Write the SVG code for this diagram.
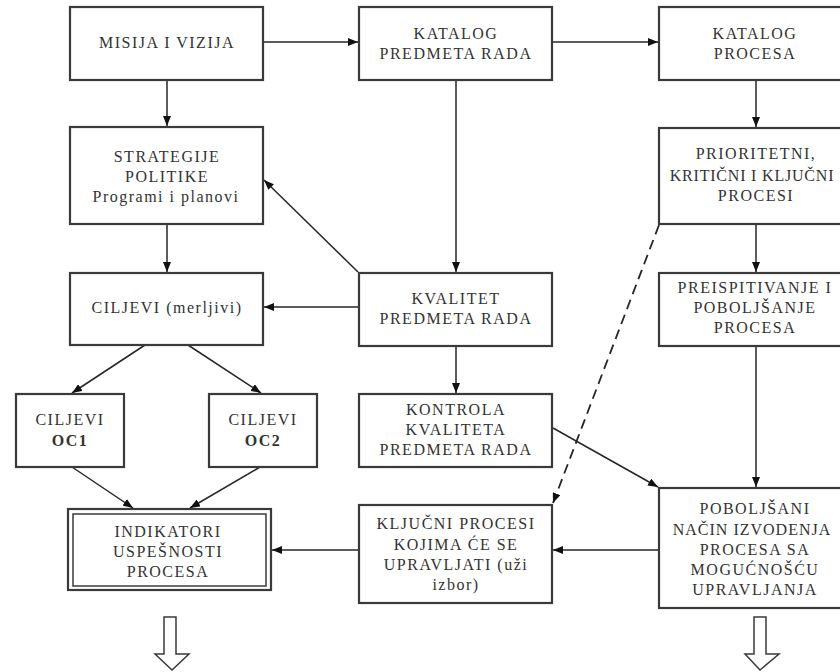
<svg xmlns="http://www.w3.org/2000/svg" width="840" height="672" viewBox="0 0 840 672">
<style>
.box{fill:#fff;stroke:#3a3a3a;stroke-width:2.2}
.t{font-family:"Liberation Serif","Times New Roman",serif;font-size:16px;letter-spacing:1.5px;fill:#333;text-anchor:middle}
.b{font-weight:bold}
.c{fill:none;stroke:#262626;stroke-width:1.5}
.d{stroke-dasharray:10,6;stroke-width:1.8}
.h{fill:#fff;stroke:#3a3a3a;stroke-width:1.5}
</style>
<defs>
<marker id="a" viewBox="0 0 10 8" refX="10" refY="4" markerWidth="10" markerHeight="8" markerUnits="userSpaceOnUse" orient="auto">
<path d="M0,0 L10,4 L0,8 Z" fill="#111"/>
</marker>
</defs>
<rect width="840" height="672" fill="#fff"/>
<g id="connectors">
<line class="c" x1="263" y1="42" x2="358" y2="42" marker-end="url(#a)"/>
<line class="c" x1="552" y1="42" x2="658" y2="42" marker-end="url(#a)"/>
<line class="c" x1="167" y1="80" x2="167" y2="126" marker-end="url(#a)"/>
<line class="c" x1="167" y1="224" x2="167" y2="272" marker-end="url(#a)"/>
<line class="c" x1="456" y1="80" x2="456" y2="272" marker-end="url(#a)"/>
<line class="c" x1="359" y1="307" x2="264" y2="307" marker-end="url(#a)"/>
<line class="c" x1="358" y1="272" x2="264" y2="180" marker-end="url(#a)"/>
<line class="c" x1="756" y1="80" x2="756" y2="127" marker-end="url(#a)"/>
<line class="c" x1="756" y1="224" x2="756" y2="272" marker-end="url(#a)"/>
<line class="c" x1="756" y1="346" x2="756" y2="487" marker-end="url(#a)"/>
<line class="c" x1="456" y1="346" x2="456" y2="393" marker-end="url(#a)"/>
<line class="c" x1="553" y1="428" x2="658" y2="487" marker-end="url(#a)"/>
<line class="c d" x1="659" y1="225" x2="553" y2="503" marker-end="url(#a)"/>
<line class="c" x1="659" y1="550" x2="553" y2="550" marker-end="url(#a)"/>
<line class="c" x1="359" y1="550" x2="272" y2="550" marker-end="url(#a)"/>
<line class="c" x1="145" y1="345" x2="72" y2="393" marker-end="url(#a)"/>
<line class="c" x1="188" y1="345" x2="261" y2="393" marker-end="url(#a)"/>
<line class="c" x1="72" y1="467" x2="133" y2="508" marker-end="url(#a)"/>
<line class="c" x1="260" y1="467" x2="190" y2="508" marker-end="url(#a)"/>
<path class="h" d="M164,617 H176 V654 H189 L172,670 L155,654 H164 Z"/>
<path class="h" d="M754,617 H766 V654 H779 L760,670 L745,654 H754 Z"/>
</g>
<g id="misija">
<rect class="box" x="70" y="7" width="193" height="73"/>
<text class="t" x="167" y="48">MISIJA I VIZIJA</text>
</g>
<g id="katalog-predmeta">
<rect class="box" x="359" y="7" width="193" height="73"/>
<text class="t" x="456" y="39">KATALOG</text>
<text class="t" x="456" y="59">PREDMETA RADA</text>
</g>
<g id="katalog-procesa">
<rect class="box" x="659" y="7" width="192" height="73"/>
<text class="t" x="755" y="39">KATALOG</text>
<text class="t" x="755" y="59">PROCESA</text>
</g>
<g id="strategije">
<rect class="box" x="70" y="127" width="193" height="97"/>
<text class="t" x="167" y="162">STRATEGIJE</text>
<text class="t" x="167" y="182">POLITIKE</text>
<text class="t" x="166" y="202">Programi i planovi</text>
</g>
<g id="ciljevi">
<rect class="box" x="70" y="273" width="193" height="72"/>
<text class="t" x="167" y="313">CILJEVI (merljivi)</text>
</g>
<g id="kvalitet">
<rect class="box" x="359" y="273" width="193" height="73"/>
<text class="t" x="456" y="304">KVALITET</text>
<text class="t" x="456" y="324">PREDMETA RADA</text>
</g>
<g id="prioritetni">
<rect class="box" x="659" y="128" width="192" height="96"/>
<text class="t" x="756" y="159">PRIORITETNI,</text>
<text class="t" x="752" y="181" style="letter-spacing:0.8px">KRITIČNI I KLJUČNI</text>
<text class="t" x="756" y="201">PROCESI</text>
</g>
<g id="preispitivanje">
<rect class="box" x="659" y="273" width="192" height="73"/>
<text class="t" x="755" y="293">PREISPITIVANJE I</text>
<text class="t" x="755" y="313">POBOLJŠANJE</text>
<text class="t" x="755" y="333">PROCESA</text>
</g>
<g id="oc1">
<rect class="box" x="16" y="394" width="108" height="73"/>
<text class="t" x="70" y="425">CILJEVI</text>
<text class="t b" x="70" y="446">OC1</text>
</g>
<g id="oc2">
<rect class="box" x="209" y="394" width="108" height="73"/>
<text class="t" x="263" y="425">CILJEVI</text>
<text class="t b" x="263" y="446">OC2</text>
</g>
<g id="kontrola">
<rect class="box" x="359" y="394" width="193" height="73"/>
<text class="t" x="456" y="415">KONTROLA</text>
<text class="t" x="456" y="435">KVALITETA</text>
<text class="t" x="456" y="455">PREDMETA RADA</text>
</g>
<g id="indikatori">
<rect class="box" x="68" y="509" width="203" height="81"/>
<rect fill="none" stroke="#3a3a3a" stroke-width="1.5" x="73" y="514" width="193" height="72"/>
<text class="t" x="168" y="537">INDIKATORI</text>
<text class="t" x="168" y="557">USPEŠNOSTI</text>
<text class="t" x="168" y="577">PROCESA</text>
</g>
<g id="kljucni">
<rect class="box" x="359" y="505" width="193" height="98"/>
<text class="t" x="456" y="529">KLJUČNI PROCESI</text>
<text class="t" x="456" y="550">KOJIMA ĆE SE</text>
<text class="t" x="456" y="570">UPRAVLJATI (uži</text>
<text class="t" x="456" y="590">izbor)</text>
</g>
<g id="poboljsani">
<rect class="box" x="659" y="488" width="192" height="120"/>
<text class="t" x="755" y="514">POBOLJŠANI</text>
<text class="t" x="752" y="535" style="letter-spacing:1px">NAČIN IZVODENJA</text>
<text class="t" x="755" y="555">PROCESA SA</text>
<text class="t" x="755" y="575">MOGUĆNOŠĆU</text>
<text class="t" x="755" y="595">UPRAVLJANJA</text>
</g>
</svg>
